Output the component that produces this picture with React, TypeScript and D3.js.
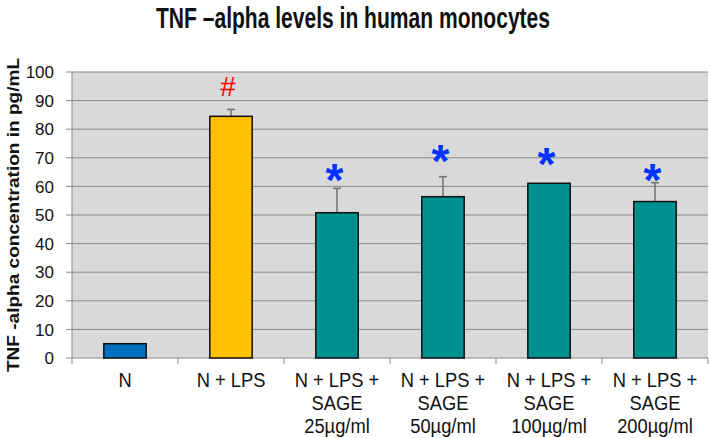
import React from "react";
import * as d3 from "d3";

const categories: string[][] = [
  ["N"],
  ["N + LPS"],
  ["N + LPS +", "SAGE", "25µg/ml"],
  ["N + LPS +", "SAGE", "50µg/ml"],
  ["N + LPS +", "SAGE", "100µg/ml"],
  ["N + LPS +", "SAGE", "200µg/ml"],
];
const values = [5.0, 84.5, 50.8, 56.4, 61.1, 54.7];
const errors = [0, 2.4, 8.5, 7.0, 0, 6.6];
const colors = ["#0070c0", "#ffc000", "#009090", "#009090", "#009090", "#009090"];
const marks = ["", "#", "*", "*", "*", "*"];
const markY = [0, 94.9, 65.2, 72.0, 71.0, 65.3];
const markColors = ["", "#ff0000", "#0033ff", "#0033ff", "#0033ff", "#0033ff"];
const yTicks = [0, 10, 20, 30, 40, 50, 60, 70, 80, 90, 100];

const W = 709, H = 438;
const left = 72, right = 708, top = 72, bottom = 358;

export default function App() {
  const x = d3.scaleBand<number>().domain(d3.range(categories.length)).range([left, right]).paddingInner(0).paddingOuter(0);
  const y = d3.scaleLinear().domain([0, 100]).range([bottom, top]);
  const bw = x.bandwidth() * 0.4;
  const font = "'Liberation Sans', Arial, sans-serif";
  return (
    <svg width={W} height={H} style={{ position: "absolute", left: 0, top: 0, background: "#fff" }}>
      <rect x={left} y={top} width={right - left} height={bottom - top} fill="#d9d9d9" />
      {yTicks.map((t) => (
        <g key={t}>
          {t > 0 && <line x1={left} x2={right} y1={y(t)} y2={y(t)} stroke="#8a8a8a" strokeWidth={1} />}
          <line x1={left - 6} x2={left} y1={y(t)} y2={y(t)} stroke="#8a8a8a" strokeWidth={1} />
          <text x={54} y={y(t)} dy="0.36em" textAnchor="end" fontFamily={font} fontSize={17} fill="#111">{t}</text>
        </g>
      ))}
      <line x1={left} x2={left} y1={top} y2={bottom} stroke="#8a8a8a" strokeWidth={1} />
      <line x1={left} x2={right} y1={bottom} y2={bottom} stroke="#8a8a8a" strokeWidth={1} />
      {d3.range(categories.length + 1).map((i) => {
        const xx = left + i * x.step();
        return <line key={i} x1={xx} x2={xx} y1={bottom} y2={bottom + 6} stroke="#8a8a8a" strokeWidth={1} />;
      })}
      {values.map((v, i) => {
        const cx = (x(i) as number) + x.bandwidth() / 2;
        return (
          <g key={i}>
            {errors[i] > 0 && (
              <g stroke="#707070" strokeWidth={1.5}>
                <line x1={cx} x2={cx} y1={y(v)} y2={y(v + errors[i])} />
                <line x1={cx - 4} x2={cx + 4} y1={y(v + errors[i])} y2={y(v + errors[i])} />
              </g>
            )}
            <rect x={cx - bw / 2} y={y(v)} width={bw} height={y(0) - y(v)} fill={colors[i]} stroke="#111" strokeWidth={1.5} />
            {marks[i] === "*" && (
              <text x={cx - 2.5} y={y(markY[i])} dy="0.54em" textAnchor="middle" fontFamily={font} fontWeight="bold" fontSize={46} fill={markColors[i]}>*</text>
            )}
            {marks[i] === "#" && (
              <text x={cx - 3} y={y(markY[i])} dy="0.35em" textAnchor="middle" fontFamily={font} fontSize={28} fill={markColors[i]}>#</text>
            )}
            {categories[i].map((line, j) => (
              <g key={j} transform={`translate(${cx},${387 + j * 23}) scale(0.94,1)`}>
                <text x={0} y={0} textAnchor="middle" fontFamily={font} fontSize={19.5} fill="#111">{line}</text>
              </g>
            ))}
          </g>
        );
      })}
      <text x={353} y={28} textAnchor="middle" fontFamily={font} fontWeight="bold" fontSize={29} textLength={394} lengthAdjust="spacingAndGlyphs" fill="#111">TNF –alpha levels in human monocytes</text>
      <text transform={`translate(19,215) rotate(-90)`} textAnchor="middle" fontFamily={font} fontWeight="bold" fontSize={17} textLength={314} lengthAdjust="spacingAndGlyphs" fill="#111">TNF -alpha concentration in pg/mL</text>
    </svg>
  );
}
